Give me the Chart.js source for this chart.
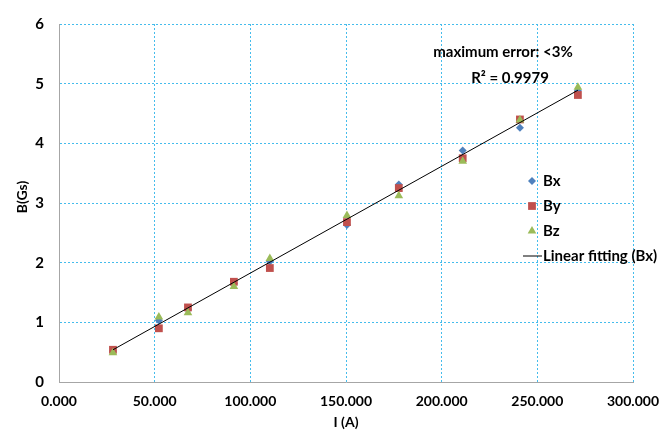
<!DOCTYPE html>
<html>
<head>
<meta charset="utf-8">
<script src="https://cdn.jsdelivr.net/npm/chart.js@4/dist/chart.umd.min.js"></script>
<style>
  html, body { margin: 0; padding: 0; background: #fff; }
  #wrap { width: 672px; height: 434px; }
</style>
</head>
<body>
<div id="wrap"><canvas id="chart-field"></canvas></div>
<script>
// Data
const currentA = [28200, 52200, 67400, 91400, 110200, 150500, 177600, 211000, 240900, 271200];
const bx = [0.52, 1.03, 1.21, 1.65, 2.02, 2.63, 3.31, 3.88, 4.26, 4.88];
const by = [0.54, 0.90, 1.25, 1.68, 1.91, 2.68, 3.25, 3.75, 4.40, 4.81];
const bz = [0.49, 1.09, 1.16, 1.60, 2.07, 2.79, 3.12, 3.70, 4.39, 4.94];
const fitI = [28200, 271200];
const fitB = [0.54, 4.89];
const xTickLabels = ["0.000", "50.000", "100.000", "150.000", "200.000", "250.000", "300.000"];
const notes = ["maximum error: <3%", "R\u00b2 = 0.9979"];
const yTitle = "B(Gs)";

const FONT = "Lato, 'Open Sans', sans-serif";
const GRID = "#45bcec";
const pts = (xs, ys) => xs.map((x, i) => ({ x: x, y: ys[i] }));

const legendItems = [
  { label: "Bx", style: "rectRot", color: "#4f81bd", r: 4 },
  { label: "By", style: "rect", color: "#c0504d", r: 5.5 },
  { label: "Bz", style: "triangle", color: "#9bbb59", r: 5 },
  { label: "Linear fitting (Bx)", style: "line", color: "#000" },
];

function marker(ctx, style, x, y, r) {
  ctx.beginPath();
  if (style === "rectRot") {
    ctx.moveTo(x, y - r); ctx.lineTo(x + r, y); ctx.lineTo(x, y + r); ctx.lineTo(x - r, y);
  } else if (style === "rect") {
    const s = r * Math.SQRT1_2;
    ctx.rect(x - s, y - s, 2 * s, 2 * s);
  } else {
    ctx.moveTo(x, y - r); ctx.lineTo(x + r * 0.866, y + r * 0.5); ctx.lineTo(x - r * 0.866, y + r * 0.5);
  }
  ctx.closePath();
  ctx.fill();
}

// notes, legend and y title drawn by hand, like the original
const extras = {
  id: "extras",
  afterDraw(chart) {
    const ctx = chart.ctx;
    ctx.save();
    ctx.fillStyle = "#000";
    ctx.font = "bold 15px " + FONT;
    ctx.textAlign = "center";
    ctx.textBaseline = "middle";
    ctx.fillText(notes[0], 503, 52);
    ctx.fillText(notes[1], 510, 78);

    ctx.textAlign = "left";
    legendItems.forEach((it, i) => {
      const y = 181 + i * 25;
      ctx.fillStyle = it.color;
      if (it.style === "line") {
        ctx.strokeStyle = it.color;
        ctx.lineWidth = 1;
        ctx.beginPath(); ctx.moveTo(523, y); ctx.lineTo(542, y); ctx.stroke();
      } else {
        marker(ctx, it.style, 532, y, it.r);
      }
      ctx.fillStyle = "#000";
      ctx.fillText(it.label, 543, y);
    });

    // y axis title
    ctx.save();
    ctx.translate(22, 197);
    ctx.rotate(-Math.PI / 2);
    ctx.textAlign = "center";
    ctx.font = "bold 14px " + FONT;
    ctx.fillText(yTitle, 0, 0);
    ctx.restore();
    ctx.restore();
  },
};

new Chart(document.getElementById("chart-field"), {
  type: "scatter",
  data: {
    datasets: [
      {
        label: "Linear fitting (Bx)",
        type: "line",
        data: pts(fitI, fitB),
        borderColor: "#000",
        borderWidth: 1,
        pointRadius: 0,
        fill: false,
        order: 0,
      },
      {
        label: "Bz",
        data: pts(currentA, bz),
        pointStyle: "triangle",
        pointRadius: 5,
        backgroundColor: "#9bbb59",
        borderColor: "#9bbb59",
        borderWidth: 0,
        order: 1,
      },
      {
        label: "By",
        data: pts(currentA, by),
        pointStyle: "rect",
        pointRadius: 5.5,
        backgroundColor: "#c0504d",
        borderColor: "#c0504d",
        borderWidth: 0,
        order: 2,
      },
      {
        label: "Bx",
        data: pts(currentA, bx),
        pointStyle: "rectRot",
        pointRadius: 4,
        backgroundColor: "#4f81bd",
        borderColor: "#4f81bd",
        borderWidth: 0,
        order: 3,
      },
    ],
  },
  options: {
    responsive: true,
    maintainAspectRatio: false,
    animation: false,
    layout: { padding: { left: 0, right: 39, top: 14, bottom: 0 } },
    plugins: { legend: { display: false }, tooltip: { enabled: false } },
    scales: {
      x: {
        type: "linear",
        min: 0,
        max: 300000,
        ticks: {
          stepSize: 50000,
          color: "#000",
          font: { family: FONT, size: 14, weight: "bold" },
          padding: 11,
          maxRotation: 0,
          callback: (v, i) => xTickLabels[i],
        },
        grid: { color: GRID, lineWidth: 1, drawTicks: false },
        border: { color: "#a6a6a6", width: 1, dash: [2, 2] },
        title: {
          display: true,
          text: "I (A)",
          color: "#000",
          font: { family: FONT, size: 14, weight: "bold" },
          padding: { top: 0, bottom: 3 },
        },
        afterFit: (s) => { s.height = 52; },
      },
      y: {
        type: "linear",
        min: 0,
        max: 6,
        ticks: {
          stepSize: 1,
          color: "#000",
          font: { family: FONT, size: 15, weight: "bold" },
          padding: 15,
        },
        grid: { color: GRID, lineWidth: 1, drawTicks: false },
        border: { color: "#a6a6a6", width: 1, dash: [2, 2] },
        afterFit: (s) => { s.width = 59; },
      },
    },
  },
  plugins: [extras],
});
</script>
</body>
</html>
